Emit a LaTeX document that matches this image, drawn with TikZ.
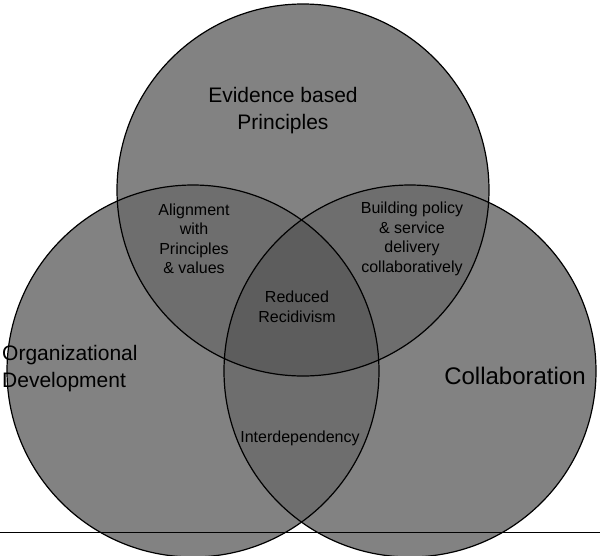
\documentclass[tikz,border=0pt]{standalone}
\usepackage{fontspec}
\setmainfont{Liberation Sans}
\usepackage{tikz}
\usetikzlibrary{shapes,positioning}
\tikzset{base/.style={circle,fill=black!40,minimum size=372pt,inner sep=0pt},
  ring/.style={circle,draw,line width=1.2pt,fill=black,fill opacity=0.15,draw opacity=1,minimum size=372pt,inner sep=0pt},
  lbl/.style={align=center,font=\fontsize{16}{19.5}\selectfont,inner sep=0pt},
  biglbl/.style={align=left,font=\fontsize{21}{27}\selectfont,inner sep=0pt}}

\begin{document}
\begin{tikzpicture}[x=1pt,y=-1pt]
    \useasboundingbox (0,0) rectangle (600,555);
    % grey ground under all three
    \node[base] (evb) at (303,190) {};
    \node[base] (orgb) at (193,371) {};
    \node[base] (colb) at (410,371) {};
    \node[ring] (ev) at (303,190) {};
    \node[ring] (org) at (193,371) {};
    \node[ring] (col) at (410,371) {};

    \coordinate (l) at (0,532);
    \coordinate (r) at (600,532);
    \draw [line width=1pt] (l) -- (r);

    \node[biglbl,align=center] (evt) at (283,111) {Evidence based\\Principles};
    \node[biglbl,anchor=west] (orgt) at (2,369) {Organizational\\Development};
    \node[biglbl,font=\fontsize{24}{28}\selectfont] (colt) at (515,376) {Collaboration};
    \node[lbl] (ali) at (194,239) {Alignment\\with\\Principles\\\& values};
    \node[lbl] (bui) at (412,239) {Building policy\\\& service\\delivery\\collaboratively};
    \node[lbl] (red) at (297,307) {Reduced\\Recidivism};
    \node[lbl] (int) at (300,438) {Interdependency};
\end{tikzpicture}
\end{document}
